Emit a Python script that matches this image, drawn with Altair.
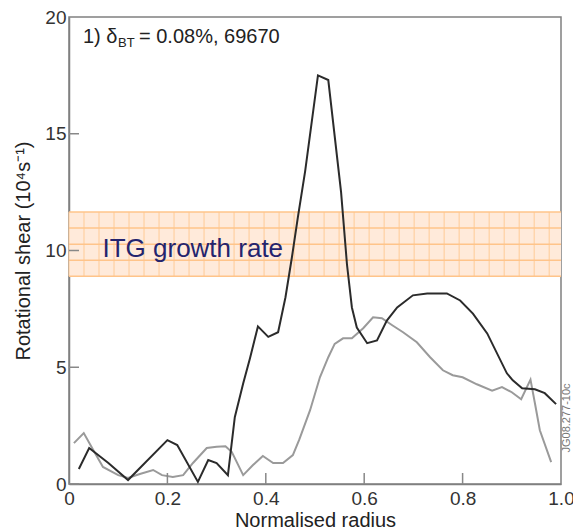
import altair as alt
import pandas as pd
import numpy as np

# Black curve (normalised radius, rotational shear)
black_x = [0.02, 0.041, 0.08, 0.12, 0.20, 0.22, 0.262, 0.283, 0.30, 0.323,
           0.337, 0.354, 0.368, 0.384, 0.405, 0.425, 0.44, 0.453, 0.465, 0.48,
           0.506, 0.527, 0.553, 0.565, 0.575, 0.585, 0.606, 0.626, 0.646, 0.667,
           0.699, 0.728, 0.768, 0.795, 0.821, 0.85, 0.89, 0.902, 0.921, 0.947,
           0.967, 0.99]
black_y = [0.64, 1.54, 0.9, 0.17, 1.88, 1.67, 0.09, 1.03, 0.9, 0.38,
           2.86, 4.3, 5.4, 6.75, 6.3, 6.5, 8.0, 9.7, 11.4, 13.4,
           17.5, 17.3, 12.5, 9.4, 7.56, 6.7, 6.03, 6.15, 7.0, 7.56,
           8.08, 8.16, 8.16, 7.86, 7.3, 6.45, 4.74, 4.44, 4.1, 4.06,
           3.89, 3.42]

# Grey curve
grey_x = [0.01, 0.03, 0.047, 0.069, 0.10, 0.12, 0.144, 0.171, 0.189, 0.211,
          0.232, 0.252, 0.28, 0.30, 0.318, 0.331, 0.354, 0.374, 0.394, 0.415,
          0.435, 0.455, 0.468, 0.49, 0.51, 0.527, 0.54, 0.557, 0.575, 0.598,
          0.618, 0.636, 0.657, 0.679, 0.707, 0.734, 0.76, 0.78, 0.80, 0.829,
          0.86, 0.88, 0.90, 0.919, 0.938, 0.947, 0.957, 0.98]
grey_y = [1.75, 2.18, 1.54, 0.73, 0.38, 0.26, 0.43, 0.6, 0.38, 0.3,
          0.38, 0.9, 1.54, 1.6, 1.62, 1.37, 0.38, 0.81, 1.2, 0.9,
          0.9, 1.24, 1.9, 3.16, 4.57, 5.43, 6.0, 6.24, 6.24, 6.67,
          7.14, 7.1, 6.8, 6.5, 6.07, 5.43, 4.87, 4.66, 4.57, 4.27,
          4.0, 4.15, 3.93, 3.63, 4.47, 3.46, 2.3, 0.94]

# ITG growth-rate band
band_lo = 8.9
band_hi = 11.65
band_hlines = [8.9, 9.58, 10.27, 10.96, 11.65]

x_ticks = [0.0, 0.2, 0.4, 0.6, 0.8, 1.0]
y_ticks = [0, 5, 10, 15, 20]
x_inner_ticks = [0.2, 0.4, 0.6, 0.8]
y_inner_ticks = [0, 5, 10, 15]

W, H = 492, 467
FONT = "Liberation Sans"

df_black = pd.DataFrame({"r": black_x, "s": black_y, "i": range(len(black_x))})
df_grey = pd.DataFrame({"r": grey_x, "s": grey_y, "i": range(len(grey_x))})

xs = alt.Scale(domain=[0, 1], nice=False, zero=False)
ys = alt.Scale(domain=[0, 20], nice=False, zero=False)

xaxis = alt.Axis(values=x_ticks, labelExpr="datum.value == 0 ? '0' : format(datum.value, '.1f')",
                 title="Normalised radius", labelFlush=False, labelOverlap=False,
                 labelPadding=5, titlePadding=2)
yaxis = alt.Axis(values=y_ticks, format="d", title="Rotational shear (10⁴s⁻¹)",
                 labelFlush=False, labelOverlap=False, labelPadding=3, titlePadding=11)

band = alt.Chart(pd.DataFrame({"x0": [0.0], "x1": [1.0], "y0": [band_lo], "y1": [band_hi]})).mark_rect(
    color="#ffeada", opacity=1).encode(
    x=alt.X("x0:Q", scale=xs, axis=xaxis), x2="x1:Q",
    y=alt.Y("y0:Q", scale=ys, axis=yaxis), y2="y1:Q")

band_v = alt.Chart(pd.DataFrame({"x": np.arange(0.0, 1.0, 0.0305)})).mark_rule(
    color="#ffcb96", strokeWidth=1).encode(
    x=alt.X("x:Q", scale=xs), y=alt.datum(band_lo), y2=alt.datum(band_hi))

band_h = alt.Chart(pd.DataFrame({"y": band_hlines})).mark_rule(
    color="#ffc48a", strokeWidth=1.5).encode(
    y=alt.Y("y:Q", scale=ys), x=alt.value(0), x2=alt.value(W))

itg = alt.Chart(pd.DataFrame({"x": [0.068], "y": [10.08], "t": ["ITG growth rate"]})).mark_text(
    align="left", baseline="middle", font=FONT, fontSize=26, color="#24246e").encode(
    x=alt.X("x:Q", scale=xs), y=alt.Y("y:Q", scale=ys), text="t:N")

grey = alt.Chart(df_grey).mark_line(color="#9a9a9a", strokeWidth=2).encode(
    x=alt.X("r:Q", scale=xs), y=alt.Y("s:Q", scale=ys), order="i:Q")
black = alt.Chart(df_black).mark_line(color="#2b2b2b", strokeWidth=2).encode(
    x=alt.X("r:Q", scale=xs), y=alt.Y("s:Q", scale=ys), order="i:Q")

ytk = alt.Chart(pd.DataFrame({"y": y_inner_ticks})).mark_rule(color="#888888", strokeWidth=1.5).encode(
    y=alt.Y("y:Q", scale=ys), x=alt.value(0), x2=alt.value(10))
xtk = alt.Chart(pd.DataFrame({"x": x_inner_ticks})).mark_rule(color="#888888", strokeWidth=1.5).encode(
    x=alt.X("x:Q", scale=xs), y=alt.value(H - 11), y2=alt.value(H))

t1 = alt.Chart(pd.DataFrame({"t": ["1) δ"]})).mark_text(
    align="left", baseline="alphabetic", font=FONT, fontSize=20, color="#222222").encode(
    x=alt.value(14), y=alt.value(26), text="t:N")
t2 = alt.Chart(pd.DataFrame({"t": ["BT"]})).mark_text(
    align="left", baseline="alphabetic", font=FONT, fontSize=13, color="#222222").encode(
    x=alt.value(49), y=alt.value(30), text="t:N")
t3 = alt.Chart(pd.DataFrame({"t": ["= 0.08%, 69670"]})).mark_text(
    align="left", baseline="alphabetic", font=FONT, fontSize=20, color="#222222").encode(
    x=alt.value(70), y=alt.value(26), text="t:N")
jg = alt.Chart(pd.DataFrame({"t": ["JG08.277-10c"]})).mark_text(
    align="center", baseline="middle", font=FONT, fontSize=11, color="#777777", angle=270).encode(
    x=alt.value(W + 6), y=alt.value(401), text="t:N")

chart = alt.layer(band, band_v, band_h, itg, grey, black, ytk, xtk, t1, t2, t3, jg).properties(
    width=W, height=H,
    autosize=alt.AutoSizeParams(type="none"),
    padding={"left": 69, "top": 17, "right": 12, "bottom": 47},
    background="white",
).configure_view(stroke="#808080", strokeWidth=1.5).configure_axis(
    domainColor="#808080", domainWidth=1.5, ticks=False, grid=False,
    labelFont=FONT, labelFontSize=19, labelColor="#333333",
    titleFont=FONT, titleFontSize=20, titleFontWeight="normal", titleColor="#222222",
)

chart.save("out.html", embed_options={"renderer": "svg", "actions": False})
